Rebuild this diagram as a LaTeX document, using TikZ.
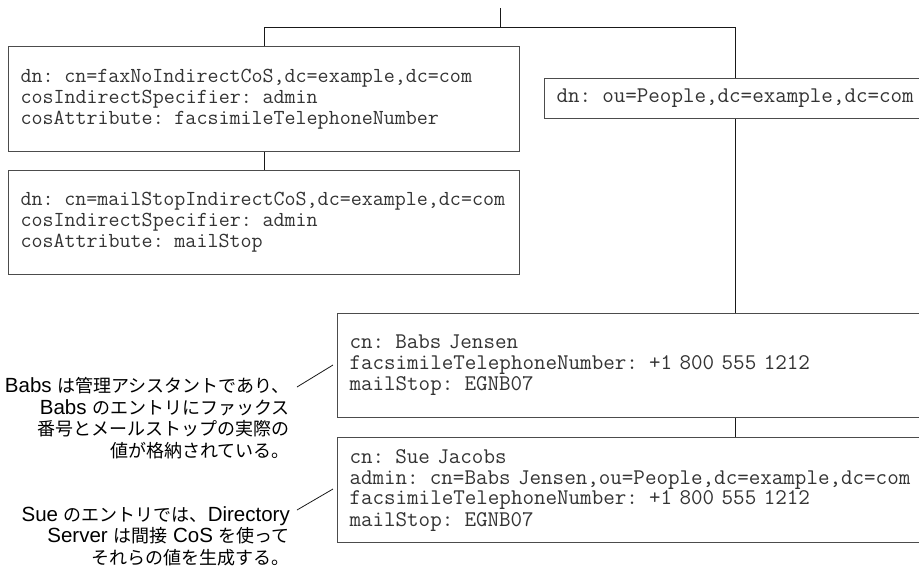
\documentclass[tikz,border=0pt]{standalone}
\usepackage{fontspec}
\newfontfamily\jpfont{Noto Sans CJK JP}
\newfontfamily\latfont{Liberation Sans}
\newcommand\lat[1]{{\latfont\fontsize{20.5}{21.7}\selectfont #1}}

\tikzset{
    entry/.style={draw=black!70, line width=1pt, anchor=north west, align=left,
        inner xsep=12pt, inner ysep=0pt, text=black!80,
        font=\ttfamily\fontsize{#1}{21}\selectfont},
    entry/.default=21.4,
    link/.style={draw=black!90, line width=1pt},
    note/.style={align=right, inner sep=0pt, anchor=north east,
        font=\jpfont\fontsize{18}{21.7}\selectfont},
}

\begin{document}
\begin{tikzpicture}[x=1pt, y=-1pt]
    \useasboundingbox (0,0) rectangle (919,566);

    % CoS definition entries
    \node[entry, text width=487, minimum height=105] (fax) at (8,46)
        {dn: cn=faxNoIndirectCoS,dc=example,dc=com\\
         cosIndirectSpecifier: admin\\
         cosAttribute: facsimileTelephoneNumber};
    \node[entry, text width=487, minimum height=104] (mail) at (8,170)
        {dn: cn=mailStopIndirectCoS,dc=example,dc=com\\
         cosIndirectSpecifier: admin\\
         cosAttribute: mailStop};

    % People branch
    \node[entry=22.4, text width=372, minimum height=40] (people) at (544,78)
        {dn: ou=People,dc=example,dc=com};
    \node[entry=22.4, text width=600, minimum height=104] (babs) at (337,313)
        {cn: Babs Jensen\\
         facsimileTelephoneNumber: +1 800 555 1212\\
         mailStop: EGNB07};
    \node[entry=22.4, text width=600, minimum height=105] (sue) at (337,437)
        {cn: Sue Jacobs\\
         admin: cn=Babs Jensen,ou=People,dc=example,dc=com\\
         facsimileTelephoneNumber: +1 800 555 1212\\
         mailStop: EGNB07};

    % Tree lines
    \coordinate (root) at (500,8);
    \coordinate (split) at (500,27);
    \coordinate (rjoin) at (735,27);
    \draw[link] (root) -- (split);
    \draw[link] (fax.north) |- (rjoin) -- (rjoin |- people.north);
    \draw[link] (fax.south) -- (mail.north);
    \draw[link] (rjoin |- people.south) -- (rjoin |- babs.north);
    \draw[link] (rjoin |- babs.south) -- (rjoin |- sue.north);

    % Notes
    \node[note] (babsnote) at (290,377)
        {\lat{Babs }は管理アシスタントであり、\\
         \lat{Babs }のエントリにファックス\\
         番号とメールストップの実際の\\
         値が格納されている。};
    \node[note] (suenote) at (290,506)
        {\lat{Sue }のエントリでは、\lat{Directory}\\
         \lat{Server }は間接\lat{ CoS }を使って\\
         それらの値を生成する。};
    \coordinate (babsfrom) at (297,387);
    \coordinate (babsto) at (333,365);
    \coordinate (suefrom) at (297,510);
    \coordinate (sueto) at (333,489);
    \draw[link, line width=0.8pt] (babsfrom) -- (babsto);
    \draw[link, line width=0.8pt] (suefrom) -- (sueto);
\end{tikzpicture}
\end{document}
